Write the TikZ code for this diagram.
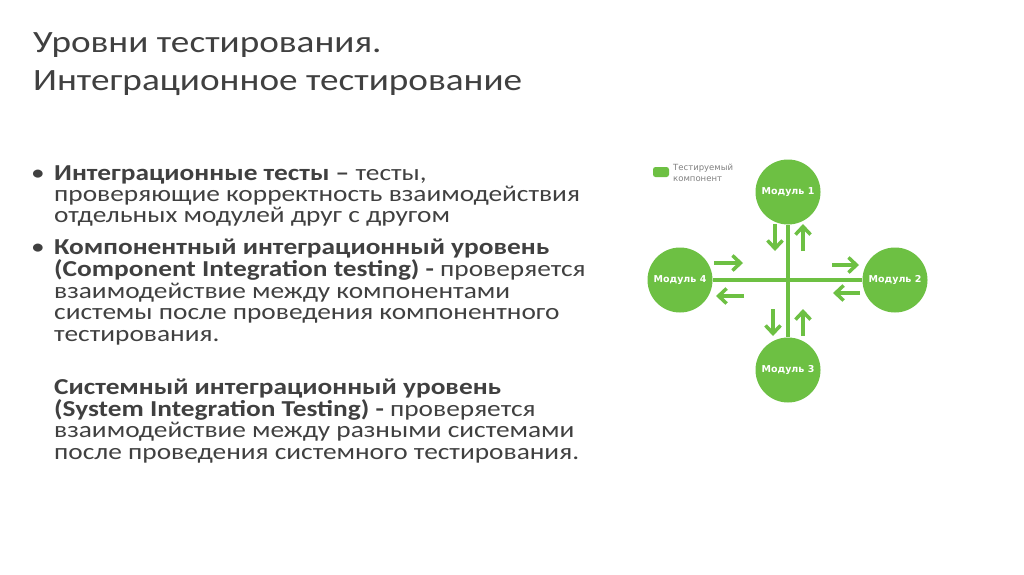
\documentclass[tikz,border=0pt]{standalone}
\usepackage{fontspec}
\setmainfont[FakeStretch=1.2]{Carlito}
\newfontfamily\dejavu{DejaVu Sans}
\definecolor{gr}{HTML}{6DC043}
\definecolor{tx}{HTML}{404040}
\usetikzlibrary{arrows.meta}
\begin{document}
\begin{tikzpicture}[x=1pt,y=-1pt,
  ttl/.style={anchor=base west,inner sep=0,text=tx,font=\fontsize{31}{32}\selectfont},
  ln/.style={anchor=base west,inner sep=0,text=tx,font=\fontsize{22.8}{23}\selectfont},
  mod/.style={circle,fill=gr,minimum size=65,inner sep=0,text=white,font=\dejavu\bfseries\fontsize{9.5}{11}\selectfont},
  ar/.style={gr,line width=3.5,-{Straight Barb[length=8,width=15,line width=3.5]}},
  leg/.style={anchor=west,inner sep=0,text=gray,font=\dejavu\fontsize{8.5}{10.5}\selectfont}]
\useasboundingbox (0,0) rectangle (1024,574);
\node[ttl] (t1) at (33,52) {Уровни тестирования.};
\node[ttl] (t2) at (33,90) {Интеграционное тестирование};
\node[ln] (b1) at (31,180) {•};
\node[ln] (l1) at (54,180) {\textbf{Интеграционные тесты –} тесты,};
\node[ln] (l2) at (54,201) {проверяющие корректность взаимодействия};
\node[ln] (l3) at (54,222) {отдельных модулей друг с другом};
\node[ln] (b2) at (31,254) {•};
\node[ln] (l4) at (54,254) {\textbf{Компонентный интеграционный уровень}};
\node[ln] (l5) at (54,276) {\textbf{(Component Integration testing) -} проверяется};
\node[ln] (l6) at (54,298) {взаимодействие между компонентами};
\node[ln] (l7) at (54,319) {системы после проведения компонентного};
\node[ln] (l8) at (54,341) {тестирования.};
\node[ln] (l9) at (54,394) {\textbf{Системный интеграционный уровень}};
\node[ln] (l10) at (54,416) {\textbf{(System Integration Testing) -} проверяется};
\node[ln] (l11) at (54,437) {взаимодействие между разными системами};
\node[ln] (l12) at (54,459) {после проведения системного тестирования.};
\fill[white] (590,140) rectangle (975,432);
\node[mod] (m1) at (788,192) {Модуль 1};
\node[mod] (m2) at (895,280) {Модуль 2};
\node[mod] (m3) at (788,370) {Модуль 3};
\node[mod] (m4) at (680,280) {Модуль 4};
\draw[gr,line width=4] (m1) -- (m3);
\draw[gr,line width=4] (m4) -- (m2);
\draw[ar] (775,224) -- (775,251);
\draw[ar] (803,251) -- (803,224);
\draw[ar] (773,309) -- (773,336);
\draw[ar] (803,336) -- (803,309);
\draw[ar] (714,263) -- (743,263);
\draw[ar] (744,296) -- (716,296);
\draw[ar] (832,265) -- (859,265);
\draw[ar] (860,293) -- (833,293);
\fill[gr,rounded corners=2.5] (653,167) rectangle (669,177);
\node[leg,align=left,anchor=north west] (lg) at (673,164) {Тестируемый\\компонент};
\end{tikzpicture}
\end{document}
